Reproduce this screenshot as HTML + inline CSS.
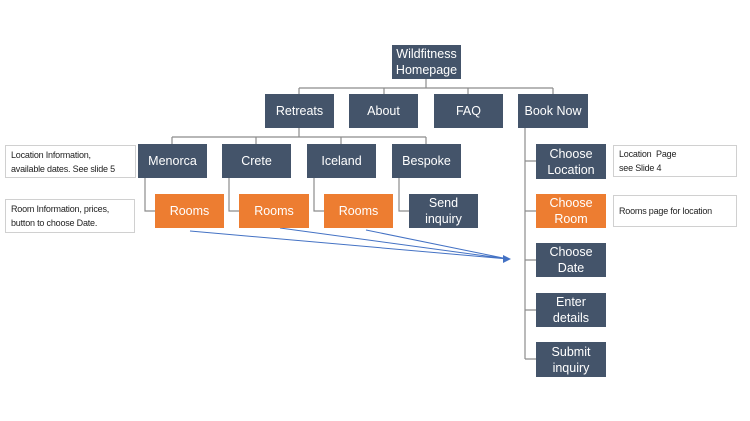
<!DOCTYPE html>
<html><head><style>
body{margin:0;width:750px;height:421px;background:#fff;overflow:hidden;position:relative;font-family:"Liberation Sans",sans-serif}
.b{position:absolute;background:#44546a;color:#fff;display:flex;align-items:center;justify-content:center;text-align:center;font-size:12.5px;line-height:16px}
.o{background:#ed7d31}
.n{position:absolute;border:1px solid #d0d0d0;background:#fff;font-size:9px;line-height:14px;color:#222;padding:1px 5px;box-sizing:border-box;display:flex;align-items:center;white-space:nowrap;letter-spacing:-0.2px}
svg{position:absolute;left:0;top:0}
</style></head><body>
<svg width="750" height="421">
<g stroke="#8c8c8c" stroke-width="1.2" fill="none">
<path d="M426 79V88M299 88H553M299 88V94M384 88V94M468 88V94M553 88V94"/>
<path d="M299 128V137M172 137H426M172 137V144M256 137V144M341 137V144M426 137V144"/>
<path d="M145 178V211H155M229 178V211H239M314 178V211H324M399 178V211H409"/>
<path d="M525 128V359M525 161H536M525 211H536M525 260H536M525 310H536M525 359H536"/>
</g>
<g stroke="#4472c4" stroke-width="1" fill="none">
<path d="M190 231L508 259M280 228L508 259M366 230L508 259"/>
</g>
<polygon points="511,259 503,255 503,263" fill="#4472c4"/>
</svg>
<div class="b" style="left:392px;top:45px;width:69px;height:34px">Wildfitness<br>Homepage</div>
<div class="b" style="left:265px;top:94px;width:69px;height:34px">Retreats</div>
<div class="b" style="left:349px;top:94px;width:69px;height:34px">About</div>
<div class="b" style="left:434px;top:94px;width:69px;height:34px">FAQ</div>
<div class="b" style="left:518px;top:94px;width:70px;height:34px">Book Now</div>
<div class="b" style="left:138px;top:144px;width:69px;height:34px">Menorca</div>
<div class="b" style="left:222px;top:144px;width:69px;height:34px">Crete</div>
<div class="b" style="left:307px;top:144px;width:69px;height:34px">Iceland</div>
<div class="b" style="left:392px;top:144px;width:69px;height:34px">Bespoke</div>
<div class="b o" style="left:155px;top:194px;width:69px;height:34px">Rooms</div>
<div class="b o" style="left:239px;top:194px;width:70px;height:34px">Rooms</div>
<div class="b o" style="left:324px;top:194px;width:69px;height:34px">Rooms</div>
<div class="b" style="left:409px;top:194px;width:69px;height:34px">Send<br>inquiry</div>
<div class="b" style="left:536px;top:144px;width:70px;height:35px">Choose<br>Location</div>
<div class="b o" style="left:536px;top:194px;width:70px;height:34px">Choose<br>Room</div>
<div class="b" style="left:536px;top:243px;width:70px;height:34px">Choose<br>Date</div>
<div class="b" style="left:536px;top:293px;width:70px;height:34px">Enter<br>details</div>
<div class="b" style="left:536px;top:342px;width:70px;height:35px">Submit<br>inquiry</div>
<div class="n" style="left:5px;top:145px;width:131px;height:33px">Location Information,<br>available dates. See slide 5</div>
<div class="n" style="left:5px;top:199px;width:130px;height:34px">Room Information, prices,<br>button to choose Date.</div>
<div class="n" style="left:613px;top:145px;width:124px;height:32px">Location&nbsp; Page<br>see Slide 4</div>
<div class="n" style="left:613px;top:195px;width:124px;height:32px">Rooms page for location</div>
</body></html>
